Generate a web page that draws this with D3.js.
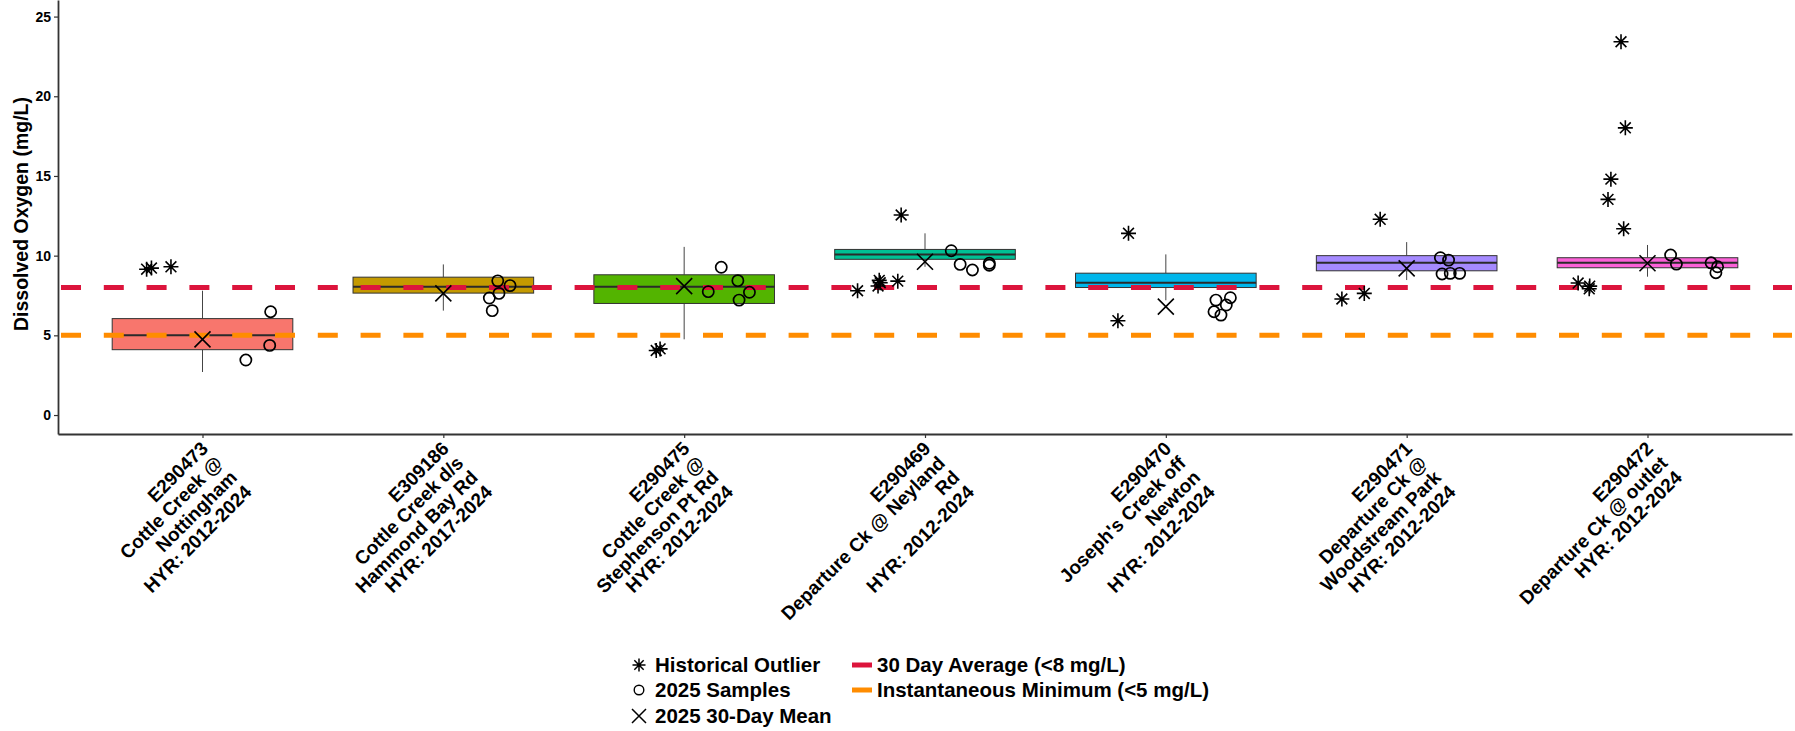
<!DOCTYPE html>
<html><head><meta charset="utf-8">
<script src="https://cdn.jsdelivr.net/npm/d3@7"></script>
<style>
body{margin:0;background:#fff}
svg{display:block}
text{font-family:"Liberation Sans",Arial,Helvetica,sans-serif;font-weight:bold}
</style>
</head><body>
<svg id="c" width="1795" height="731"></svg>
<script>
// ---------- DATA ----------
const sites = ["E290473","E309186","E290475","E290469","E290470","E290471","E290472"];
const siteLabels = [
  ["E290473","Cottle Creek @","Nottingham","HYR: 2012-2024"],
  ["E309186","Cottle Creek d/s","Hammond Bay Rd","HYR: 2017-2024"],
  ["E290475","Cottle Creek @","Stephenson Pt Rd","HYR: 2012-2024"],
  ["E290469","Departure Ck @ Neyland","Rd","HYR: 2012-2024"],
  ["E290470","Joseph's Creek off","Newton","HYR: 2012-2024"],
  ["E290471","Departure Ck @","Woodstream Park","HYR: 2012-2024"],
  ["E290472","Departure Ck @ outlet","HYR: 2012-2024"]
];
const boxColors = ["#F8766D","#C49A00","#53B400","#00C094","#00B6EB","#A58AFF","#FB61D7"];
// historical box statistics (mg/L)
const whiskerLow  = [2.7, 6.55, 4.75, 9.3, 7.2, 8.47, 8.68];
const q1          = [4.1, 7.65, 7.0, 9.77, 8.0, 9.05, 9.24];
const median      = [5.0, 8.05, 8.05, 10.08, 8.3, 9.55, 9.55];
const q3          = [6.05, 8.65, 8.8, 10.39, 8.9, 10.0, 9.87];
const whiskerHigh = [7.8, 9.45, 10.55, 11.4, 10.08, 10.85, 10.67];
// 2025 30-day mean
const mean30 = [4.75, 7.63, 8.09, 9.62, 6.8, 9.2, 9.52];
// historical outliers: site, value, jitter (fraction of category step)
const outlierSite   = ["E290473","E290473","E290473","E290475","E290475",
                       "E290469","E290469","E290469","E290469","E290469","E290469",
                       "E290470","E290470","E290471","E290471","E290471",
                       "E290472","E290472","E290472","E290472","E290472","E290472","E290472","E290472"];
const outlierValue  = [9.15, 9.22, 9.3, 4.05, 4.15,
                       12.55, 7.8, 8.1, 8.3, 8.45, 8.4,
                       11.4, 5.92, 12.28, 7.28, 7.63,
                       23.42, 18.02, 14.8, 13.53, 11.69, 8.28, 8.09, 7.92];
const outlierJitter = [-0.232, -0.212, -0.131, -0.116, -0.1,
                       -0.099, -0.28, -0.195, -0.186, -0.19, -0.113,
                       -0.155, -0.199, -0.11, -0.269, -0.176,
                       -0.11, -0.092, -0.152, -0.164, -0.099, -0.288, -0.24, -0.242];
// 2025 samples
const sampleSite   = ["E290473","E290473","E290473",
                      "E309186","E309186","E309186","E309186","E309186",
                      "E290475","E290475","E290475","E290475","E290475",
                      "E290469","E290469","E290469","E290469","E290469",
                      "E290470","E290470","E290470","E290470","E290470",
                      "E290471","E290471","E290471","E290471","E290471",
                      "E290472","E290472","E290472","E290472","E290472"];
const sampleValue  = [3.45, 6.48, 4.37,
                      6.55, 7.34, 7.63, 8.42, 8.12,
                      9.27, 7.74, 8.43, 7.7, 7.21,
                      10.31, 9.45, 9.1, 9.52, 9.4,
                      7.36, 7.21, 6.9, 6.48, 6.27,
                      9.87, 9.72, 8.85, 8.89, 8.89,
                      10.04, 9.47, 9.55, 9.3, 8.93];
const sampleJitter = [0.18, 0.283, 0.279,
                      0.203, 0.191, 0.231, 0.226, 0.277,
                      0.154, 0.1, 0.223, 0.271, 0.228,
                      0.109, 0.146, 0.197, 0.267, 0.267,
                      0.268, 0.208, 0.251, 0.2, 0.229,
                      0.14, 0.174, 0.147, 0.181, 0.22,
                      0.096, 0.12, 0.264, 0.291, 0.284];
const yTicks = [0, 5, 10, 15, 20, 25];
const thresholdValues = [8, 5];
const thresholdColors = ["#DC143C", "#FF8C00"];
const thresholdNames = ["30 Day Average (<8 mg/L)", "Instantaneous Minimum (<5 mg/L)"];
const symbolNames = ["Historical Outlier", "2025 Samples", "2025 30-Day Mean"];
const yTitle = "Dissolved Oxygen (mg/L)";

// ---------- LAYOUT ----------
const svg = d3.select("#c");
const plotLeft = 58, plotRight = 1792, plotBottom = 434, plotTop = 0;
const x = d3.scalePoint().domain(sites).range([plotLeft, plotRight]).padding(0.6);
const y = d3.scaleLinear().domain([-1.19, 26.04]).range([plotBottom, plotTop]);
const step = x.step();
const bw = step * 0.75;
const ink = "#000";

// boxes
const boxes = svg.append("g");
sites.forEach((s, i) => {
  const cx = x(s);
  const g = boxes.append("g");
  g.append("line").attr("x1", cx).attr("x2", cx).attr("y1", y(q3[i])).attr("y2", y(whiskerHigh[i]))
    .attr("stroke", "#444").attr("stroke-width", 1);
  g.append("line").attr("x1", cx).attr("x2", cx).attr("y1", y(q1[i])).attr("y2", y(whiskerLow[i]))
    .attr("stroke", "#444").attr("stroke-width", 1);
  g.append("rect").attr("x", cx - bw / 2).attr("width", bw)
    .attr("y", y(q3[i])).attr("height", y(q1[i]) - y(q3[i]))
    .attr("fill", boxColors[i]).attr("stroke", "#333").attr("stroke-width", 1);
  g.append("line").attr("x1", cx - bw / 2).attr("x2", cx + bw / 2)
    .attr("y1", y(median[i])).attr("y2", y(median[i]))
    .attr("stroke", "#2a2a2a").attr("stroke-width", 2);
});

// threshold lines
thresholdValues.forEach((v, i) => {
  svg.append("line").attr("x1", plotLeft).attr("x2", plotRight).attr("y1", y(v)).attr("y2", y(v))
    .attr("stroke", thresholdColors[i]).attr("stroke-width", 5)
    .attr("stroke-dasharray", "20 22.8").attr("stroke-dashoffset", 39.8);
});

// symbol helpers
function asterisk(g, cx, cy, r, sw) {
  const d = r * 0.72;
  const p = `M${cx - r},${cy}L${cx + r},${cy}M${cx},${cy - r}L${cx},${cy + r}` +
            `M${cx - d},${cy - d}L${cx + d},${cy + d}M${cx - d},${cy + d}L${cx + d},${cy - d}`;
  g.append("path").attr("d", p).attr("stroke", ink).attr("stroke-width", sw).attr("fill", "none");
}
function cross(g, cx, cy, r, sw) {
  const p = `M${cx - r},${cy - r}L${cx + r},${cy + r}M${cx - r},${cy + r}L${cx + r},${cy - r}`;
  g.append("path").attr("d", p).attr("stroke", ink).attr("stroke-width", sw).attr("fill", "none");
}

const pts = svg.append("g");
outlierValue.forEach((v, i) => {
  asterisk(pts, x(outlierSite[i]) + outlierJitter[i] * step, y(v), 7.5, 1.6);
});
sampleValue.forEach((v, i) => {
  pts.append("circle").attr("cx", x(sampleSite[i]) + sampleJitter[i] * step).attr("cy", y(v))
    .attr("r", 5.6).attr("fill", "none").attr("stroke", ink).attr("stroke-width", 1.7);
});
mean30.forEach((v, i) => {
  cross(pts, x(sites[i]), y(v), 8, 1.6);
});

// axes
const yAxis = svg.append("g").attr("transform", `translate(${plotLeft},0)`)
  .call(d3.axisLeft(y).tickValues(yTicks).tickSize(4).tickSizeOuter(0).tickPadding(3));
yAxis.select(".domain").attr("stroke", "#333").attr("stroke-width", 1.8);
yAxis.selectAll(".tick line").attr("stroke", "#333").attr("stroke-width", 1.2);
yAxis.selectAll(".tick text").attr("fill", ink).style("font-size", "14px").style("font-weight", "bold")
  .style("font-family", '"Liberation Sans",Arial,sans-serif');

const xAxis = svg.append("g").attr("transform", `translate(0,${plotBottom})`)
  .call(d3.axisBottom(x).tickSize(4).tickSizeOuter(0).tickFormat(""));
xAxis.select(".domain").attr("stroke", "#333").attr("stroke-width", 1.8);
xAxis.selectAll(".tick line").attr("stroke", "#333").attr("stroke-width", 1.2);

// rotated multi-line category labels
const fs = 19, lh = 20.5;
sites.forEach((s, i) => {
  const g = svg.append("g").attr("transform", `translate(${x(s) - 3},${plotBottom + 6}) rotate(-45)`);
  siteLabels[i].forEach((ln, k) => {
    g.append("text").attr("x", 0).attr("y", fs * 0.72 + k * lh)
      .attr("text-anchor", "end").attr("fill", ink).style("font-size", fs + "px").text(ln);
  });
});

// y title
svg.append("text").attr("transform", `translate(28,214) rotate(-90)`)
  .attr("text-anchor", "middle").attr("fill", ink).style("font-size", "19.5px").text(yTitle);

// legend
const lg = svg.append("g");
const rowsY = [665, 690, 716];
const lfs = 20.5;
asterisk(lg, 639, rowsY[0], 6.5, 1.5);
lg.append("circle").attr("cx", 639).attr("cy", rowsY[1]).attr("r", 4.8)
  .attr("fill", "none").attr("stroke", ink).attr("stroke-width", 1.4);
cross(lg, 639, rowsY[2], 7, 1.5);
symbolNames.forEach((t, i) => {
  lg.append("text").attr("x", 655).attr("y", rowsY[i] + lfs * 0.36).attr("fill", ink)
    .style("font-size", lfs + "px").text(t);
});
thresholdNames.forEach((t, i) => {
  lg.append("line").attr("x1", 852).attr("x2", 872).attr("y1", rowsY[i]).attr("y2", rowsY[i])
    .attr("stroke", thresholdColors[i]).attr("stroke-width", 5);
  lg.append("text").attr("x", 877).attr("y", rowsY[i] + lfs * 0.36).attr("fill", ink)
    .style("font-size", lfs + "px").text(t);
});
</script>
</body></html>
